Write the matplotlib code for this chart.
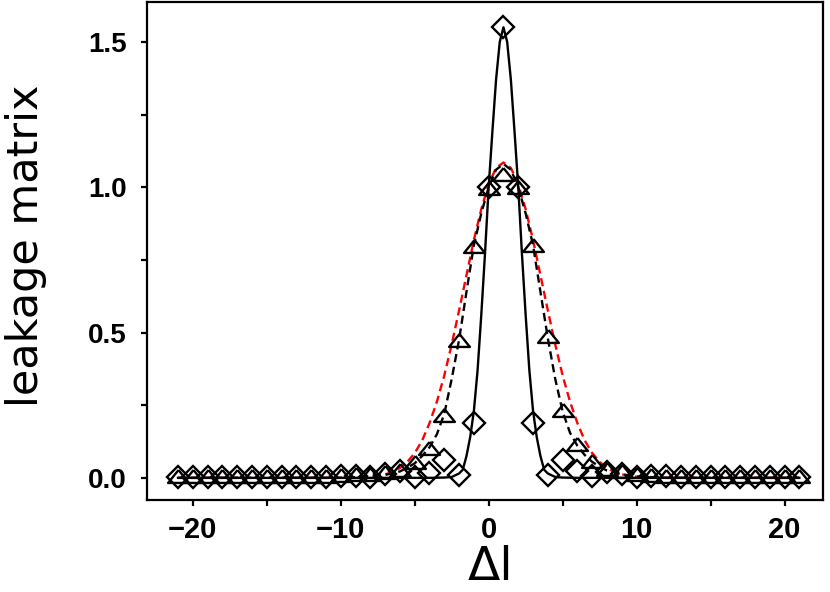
import matplotlib
matplotlib.use("Agg")
import matplotlib.pyplot as plt
from matplotlib.ticker import MultipleLocator, FixedLocator

# ---- data ----
ell = list(range(-21, 22))

diamond_vals = [0.004, 0.003, 0.004, 0.003, 0.004, 0.003, 0.004, 0.003, 0.004, 0.003,
                0.004, 0.005, 0.008, 0.004, 0.012, 0.022, 0.002, 0.018, 0.063, 0.009,
                0.19, 1.0, 1.55, 1.0, 0.19, 0.009, 0.063, 0.022, 0.005, 0.02,
                0.012, 0.004, 0.008, 0.005, 0.004, 0.003, 0.004, 0.003, 0.004, 0.003,
                0.004, 0.003, 0.004]

triangle_vals = [0.008, 0.008, 0.008, 0.008, 0.008, 0.008, 0.008, 0.008, 0.008, 0.008,
                 0.008, 0.01, 0.012, 0.012, 0.02, 0.028, 0.053, 0.101, 0.216, 0.474,
                 0.798, 0.998, 1.044, 1.0, 0.80, 0.488, 0.233, 0.115, 0.057, 0.032,
                 0.022, 0.014, 0.01, 0.008, 0.008, 0.008, 0.008, 0.008, 0.008, 0.008,
                 0.008, 0.008, 0.008]

# solid curve (narrow kernel)
solid_x = [-21, -4, -3, -2.5, -2, -1.75, -1.5, -1.25, -1, -0.75, -0.5, -0.25, 0,
           0.25, 0.5, 0.75, 1, 1.25, 1.5, 1.75, 2, 2.25, 2.5, 2.75, 3, 3.25, 3.5,
           3.75, 4, 4.5, 5, 6, 21]
solid_y = [0.0, 0.0, 0.001, 0.003, 0.015, 0.028, 0.075, 0.14, 0.23, 0.37, 0.56, 0.77, 1.0,
           1.19, 1.37, 1.50, 1.55, 1.50, 1.37, 1.19, 1.0, 0.77, 0.56, 0.37, 0.23,
           0.14, 0.075, 0.028, 0.015, 0.003, 0.001, 0.0, 0.0]

# dashed black curve (through triangles)
dash_x = [-21, -10, -8, -7, -6, -5.5, -5, -4.5, -4, -3.5, -3, -2.5, -2, -1.5, -1, -0.5,
          0, 0.5, 1, 1.5, 2, 2.5, 3, 3.5, 4, 4.5, 5, 5.5, 6, 6.5, 7, 7.5, 8, 9, 10, 12, 21]
dash_y = [0.0, 0.0, 0.004, 0.01, 0.022, 0.035, 0.05, 0.075, 0.105, 0.15, 0.22, 0.34, 0.475,
          0.64, 0.80, 0.91, 1.0, 1.06, 1.08, 1.06, 1.0, 0.91, 0.80, 0.64, 0.48,
          0.34, 0.228, 0.155, 0.11, 0.078, 0.055, 0.038, 0.025, 0.012, 0.005, 0.0, 0.0]

# red dashed curve (gaussian-like fit)
red_x = [-21, -10, -9, -8, -7, -6.5, -6, -5.5, -5, -4.5, -4, -3.5, -3, -2.5, -2, -1.5,
         -1, -0.5, 0, 0.5, 1, 1.5, 2, 2.5, 3, 3.5, 4, 4.5, 5, 5.5, 6, 6.5, 7, 7.5,
         8, 8.5, 9, 10, 11, 12, 21]
red_y = [0.0, 0.0, 0.001, 0.004, 0.012, 0.02, 0.034, 0.055, 0.085, 0.128, 0.188, 0.262,
         0.352, 0.459, 0.576, 0.697, 0.818, 0.924, 1.011, 1.066, 1.085, 1.066, 1.011,
         0.924, 0.818, 0.697, 0.576, 0.459, 0.352, 0.262, 0.188, 0.128, 0.085, 0.055,
         0.034, 0.02, 0.012, 0.004, 0.001, 0.0, 0.0]

xticks_major = [-20, -10, 0, 10, 20]
yticks_major = [0.0, 0.5, 1.0, 1.5]

# ---- figure ----
W, H = 830, 592
fig = plt.figure(figsize=(W / 100, H / 100), dpi=100)
ax = fig.add_axes([0.177, 0.155, 0.8146, 0.8416])

ax.plot(red_x, red_y, color="#ff0000", lw=1.7, dashes=(3.5, 2), zorder=2)
ax.plot(dash_x, dash_y, color="black", lw=1.7, dashes=(3.5, 2), zorder=3)
ax.plot(solid_x, solid_y, color="black", lw=1.7, zorder=3)

tri_marker = [(0, 0.62), (-1, -0.62), (1, -0.62), (0, 0.62)]
ax.plot(ell, triangle_vals, linestyle="none", marker=tri_marker, markersize=15,
        markerfacecolor="none", markeredgecolor="black", markeredgewidth=1.7, zorder=4)
ax.plot(ell, diamond_vals, linestyle="none", marker="D", markersize=11.5,
        markerfacecolor="none", markeredgecolor="black", markeredgewidth=1.7, zorder=4)

ax.set_xlim(-23.1, 22.6)
ax.set_ylim(-0.077, 1.637)

ax.xaxis.set_major_locator(FixedLocator(xticks_major))
ax.xaxis.set_minor_locator(MultipleLocator(5))
ax.yaxis.set_major_locator(FixedLocator(yticks_major))
ax.yaxis.set_minor_locator(MultipleLocator(0.25))
ax.set_xticklabels([f"{v:d}".replace("-", "\u2212") for v in xticks_major])
ax.set_yticklabels([f"{v:.1f}" for v in yticks_major])

for t in ax.get_xticklabels():
    t.set_fontfamily("Liberation Sans")
    t.set_fontweight("bold")
    t.set_fontsize(21)
for t in ax.get_yticklabels():
    t.set_fontfamily("Liberation Sans")
    t.set_fontweight("bold")
    t.set_fontsize(20)

ax.tick_params(which="both", direction="out", length=4.5, width=1.6, colors="black")
ax.tick_params(axis="y", which="both", pad=10)
ax.tick_params(axis="x", which="both", pad=7)

for s in ax.spines.values():
    s.set_linewidth(1.6)

fig.text(26 / W, 1 - 246 / H, "leakage matrix", fontsize=31, family="DejaVu Sans",
         rotation=90, ha="center", va="center")
fig.text(490 / W, 1.5 / H, "\u0394l", fontsize=34, family="DejaVu Sans",
         ha="center", va="bottom")

fig.savefig("out.png", dpi=100)
